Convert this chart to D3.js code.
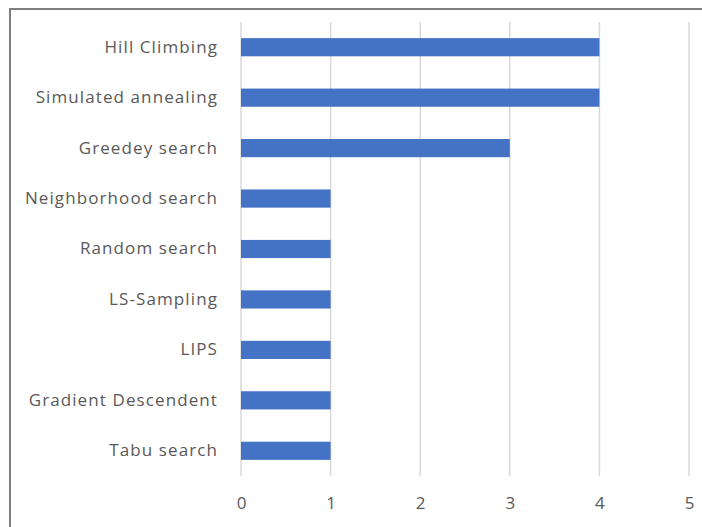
<!DOCTYPE html>
<html>
<head>
<meta charset="UTF-8">
<title>Search methods</title>
<script src="https://d3js.org/d3.v7.min.js"></script>
<style>
	body { margin: 0; background: #fff; }
	text { font-family: "Open Sans", "Liberation Sans", sans-serif; }
</style>
</head>
<body>
	<div id="svg-container"></div>
	<script type="text/javascript">
		let methods = ["Hill Climbing", "Simulated annealing", "Greedey search", "Neighborhood search",
			"Random search", "LS-Sampling", "LIPS", "Gradient Descendent", "Tabu search"];
		let counts = [4, 4, 3, 1, 1, 1, 1, 1, 1];
		let ticks = [0, 1, 2, 3, 4, 5];

		let width = 702, height = 527;
		let margin = {top: 22, right: 13, bottom: 51, left: 241};

		let svg = d3.select("#svg-container")
			.append("svg")
			.attr("width", width)
			.attr("height", height);

		// frame, only left and top edges show in the picture
		svg.append("path")
			.attr("d", `M10,${height} V9 H${width}`)
			.attr("fill", "none")
			.attr("stroke", "#7f7f7f")
			.attr("stroke-width", 2);

		let x = d3.scaleLinear()
			.domain([0, 5])
			.range([margin.left, width - margin.right]);

		let y = d3.scaleBand()
			.domain(methods)
			.range([margin.top, height - margin.bottom])
			.paddingInner(0.64)
			.paddingOuter(0.32);

		// gridlines
		svg.append("g")
			.selectAll("line")
			.data(ticks)
			.join("line")
			.attr("x1", d => x(d))
			.attr("x2", d => x(d))
			.attr("y1", margin.top)
			.attr("y2", height - margin.bottom)
			.attr("stroke", "#d9d9d9")
			.attr("stroke-width", 1.5);

		svg.append("g")
			.selectAll("rect")
			.data(counts)
			.join("rect")
			.attr("x", x(0))
			.attr("y", (d, i) => y(methods[i]))
			.attr("width", d => x(d) - x(0))
			.attr("height", y.bandwidth())
			.attr("fill", "#4472c4");

		let xAxis = svg.append("g")
			.attr("transform", `translate(0,${height - margin.bottom})`)
			.call(d3.axisBottom(x).tickValues(ticks).tickFormat(d3.format("d")).tickSize(0).tickPadding(21));
		xAxis.select(".domain").remove();
		xAxis.selectAll("text")
			.attr("fill", "#595959")
			.attr("font-size", 17)
			.style("font-family", "'Open Sans', sans-serif");

		let yAxis = svg.append("g")
			.attr("transform", `translate(${margin.left},0)`)
			.call(d3.axisLeft(y).tickSize(0).tickPadding(23));
		yAxis.select(".domain").remove();
		yAxis.selectAll("text")
			.attr("fill", "#595959")
			.attr("font-size", 17)
			.attr("letter-spacing", 1.1)
			.style("font-family", "'Open Sans', sans-serif");
	</script>
</body>
</html>
